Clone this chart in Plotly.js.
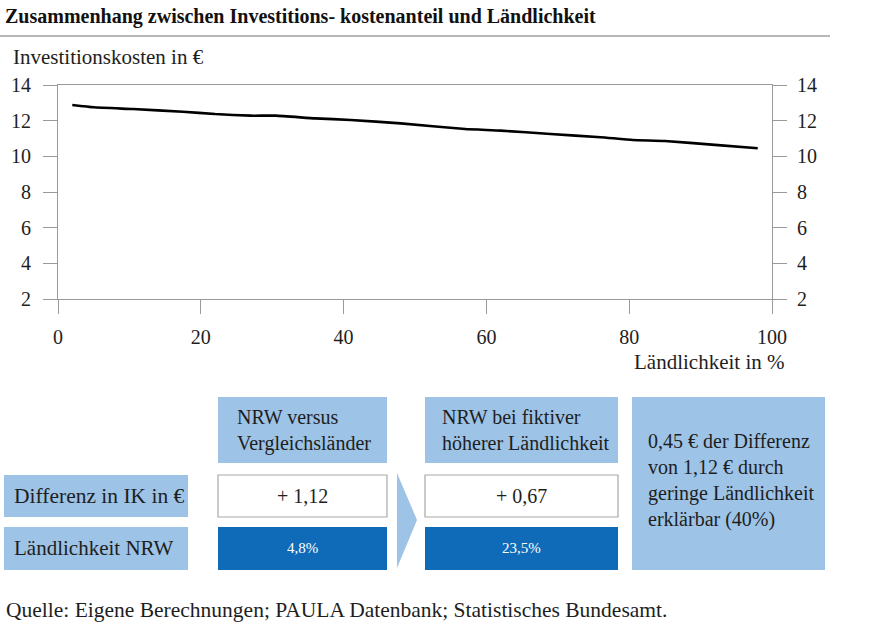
<!DOCTYPE html>
<html>
<head>
<meta charset="utf-8">
<script src="https://cdn.plot.ly/plotly-3.0.1.min.js"></script>
<style>html,body{margin:0;padding:0;background:#fff;}#chart{width:880px;height:629px;}</style>
</head>
<body>
<div id="chart"></div>
<script>
// ---- data ----
const laendlichkeit = [2, 5, 10.5, 17.5, 22, 27, 30.5, 36, 41, 48, 57, 62, 69, 76, 80.5, 85, 92, 98];
const investitionskosten = [12.88, 12.75, 12.65, 12.5, 12.37, 12.28, 12.28, 12.13, 12.04, 11.85, 11.53, 11.44, 11.25, 11.07, 10.92, 10.86, 10.64, 10.45];
const xTicks = [0, 20, 40, 60, 80, 100];
const yTicks = [2, 4, 6, 8, 10, 12, 14];

const titleText = "Zusammenhang zwischen Investitions- kostenanteil und Ländlichkeit";
const yTitle = "Investitionskosten in €";
const xTitle = "Ländlichkeit in %";
const rowLabels = ["Differenz in IK in €", "Ländlichkeit NRW"];
const colHeaders = ["NRW versus<br>Vergleichsländer", "NRW bei fiktiver<br>höherer Ländlichkeit"];
const diffValues = ["+ 1,12", "+ 0,67"];
const laendValues = ["4,8%", "23,5%"];
const conclusion = "0,45 € der Differenz<br>von 1,12 € durch<br>geringe Ländlichkeit<br>erklärbar (40%)";
const source = "Quelle: Eigene Berechnungen; PAULA Datenbank; Statistisches Bundesamt.";

// ---- layout helpers (pixel -> paper) ----
const W = 880, H = 629;
const M = {l: 58, r: 108, t: 85, b: 330};
const PW = W - M.l - M.r, PH = H - M.t - M.b;
const xp = px => (px - M.l) / PW;
const yp = py => (H - M.b - py) / PH;

const FONT = "'Liberation Serif', 'Times New Roman', Times, serif";
const LIGHT = "#9dc3e6";
const DARK = "#0f6bb8";
const TXT = "#1e1e1e";
const GRID = "#9a9a9a";

function rect(x0, y0, x1, y1, fill, line) {
  return {type: "rect", xref: "paper", yref: "paper", x0: xp(x0), x1: xp(x1), y0: yp(y1), y1: yp(y0),
    fillcolor: fill, line: line ? {color: line, width: 1.2} : {width: 0}, layer: "above"};
}
function ann(text, x, y, xanchor, opts) {
  opts = opts || {};
  return {text: text, xref: "paper", yref: "paper", x: xp(x), y: yp(y), xanchor: xanchor,
    yanchor: "middle", showarrow: false, align: xanchor === "center" ? "center" : "left",
    font: {family: FONT, size: opts.size || 20, color: opts.color || TXT}};
}

const shapes = [
  {type: "line", xref: "paper", yref: "paper", x0: xp(0), x1: xp(830), y0: yp(36), y1: yp(36), line: {color: "#a0a0a0", width: 1.5}},
  rect(218, 397, 387, 463, LIGHT),
  rect(425, 397, 618, 463, LIGHT),
  rect(4, 475, 188, 517, LIGHT),
  rect(4, 527, 188, 570, LIGHT),
  rect(218, 475, 387, 517, "#ffffff", "#a8a8a8"),
  rect(425, 475, 618, 517, "#ffffff", "#a8a8a8"),
  rect(218, 527, 387, 570, DARK),
  rect(425, 527, 618, 570, DARK),
  rect(632, 397, 825, 570, LIGHT),
  {type: "path", xref: "paper", yref: "paper", layer: "above",
   path: `M ${xp(397)},${yp(473)} L ${xp(417)},${yp(520)} L ${xp(397)},${yp(568)} Z`,
   fillcolor: LIGHT, line: {width: 0}}
];

const annotations = [
  ann(yTitle, 11, 57, "left", {size: 21}),
  ann(xTitle, 786, 362, "right", {size: 21}),
  ann(colHeaders[0], 235, 430, "left"),
  ann(colHeaders[1], 440, 430, "left"),
  ann(rowLabels[0], 12, 496, "left", {size: 21.5}),
  ann(rowLabels[1], 12, 548, "left", {size: 21}),
  ann(diffValues[0], 302, 496, "center"),
  ann(diffValues[1], 521, 496, "center"),
  ann(laendValues[0], 302, 548, "center", {size: 15, color: "#ffffff"}),
  ann(laendValues[1], 521, 548, "center", {size: 15, color: "#ffffff"}),
  ann(conclusion, 646, 480, "left"),
  ann(source, 4, 610, "left", {size: 21.5})
];

const traces = [
  {x: laendlichkeit, y: investitionskosten, type: "scatter", mode: "lines",
   line: {color: "#000000", width: 2.6, shape: "spline", smoothing: 0.4}, hoverinfo: "skip", showlegend: false},
  {x: laendlichkeit, y: investitionskosten, yaxis: "y2", type: "scatter", mode: "lines",
   line: {color: "rgba(0,0,0,0)", width: 0}, hoverinfo: "skip", showlegend: false}
];

const axisCommon = {ticks: "outside", ticklen: 14, tickwidth: 1, tickcolor: GRID, showline: true, linecolor: GRID,
  linewidth: 1, showgrid: false, zeroline: false, tickfont: {family: FONT, size: 20, color: TXT}};

const layout = {
  width: W, height: H, autosize: false,
  margin: M,
  font: {family: FONT},
  paper_bgcolor: "#ffffff", plot_bgcolor: "#ffffff",
  showlegend: false,
  title: {text: titleText, xref: "container", yref: "container", x: 5 / W, y: 1 - 16 / H,
    xanchor: "left", yanchor: "middle", font: {family: FONT, size: 20, weight: 700, color: "#111"}},
  xaxis: Object.assign({}, axisCommon, {range: [0, 100], tickvals: xTicks, mirror: true, ticklabelstandoff: 6}),
  yaxis: Object.assign({}, axisCommon, {range: [2, 14], tickvals: yTicks, ticklabelstandoff: 8}),
  yaxis2: Object.assign({}, axisCommon, {range: [2, 14], tickvals: yTicks, overlaying: "y", side: "right", ticklabelstandoff: 6}),
  shapes: shapes,
  annotations: annotations
};

Plotly.newPlot("chart", traces, layout, {displayModeBar: false, staticPlot: true});
</script>
</body>
</html>
